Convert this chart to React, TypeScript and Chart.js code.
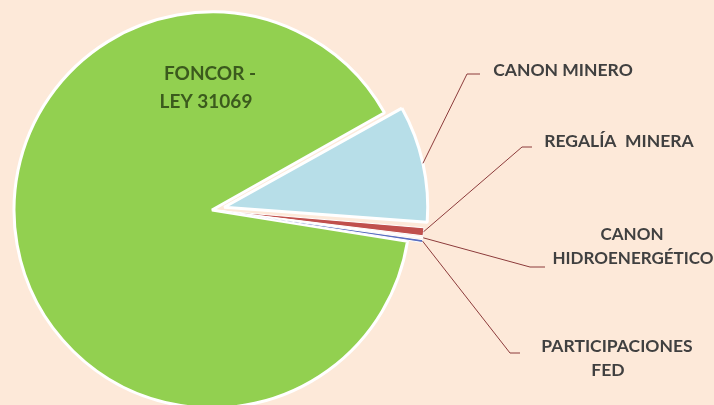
import React, { useEffect, useRef } from "react";
import { Chart, registerables } from "chart.js";

Chart.register(...registerables);

// ---- data ----
const categories = [
  "FONCOR - LEY 31069",
  "CANON MINERO",
  "REGALÍA MINERA",
  "CANON HIDROENERGÉTICO",
  "PARTICIPACIONES FED",
];
const shares = [89.3, 9.4, 0.8, 0.1, 0.4];
const labelLines = [
  ["FONCOR -", "LEY 31069"],
  ["CANON MINERO"],
  ["REGALÍA  MINERA"],
  ["CANON", "HIDROENERGÉTICO"],
  ["PARTICIPACIONES", "FED"],
];

// ---- styles / layout ----
const sliceColors = ["#92d050", "#b7dee8", "#c0504d", "#8064a2", "#5b6fc0"];
const sliceBorders = [3, 3, 1, 2, 1];
const sliceOffsets = [0, 50, 30, 30, 30];
const BG = "#fde9d9";
// text centers per line: [x, y]
const labelCenters: number[][][] = [
  [[210, 74], [206, 102]],
  [[563, 70]],
  [[619, 141]],
  [[632, 235], [633, 259]],
  [[617, 346], [608, 370]],
];
const labelFonts = [19, 17.5, 17.5, 17, 17.5];
// leader elbows: [elbowX, elbowY, endX] (null = no leader)
const leaderElbows: (number[] | null)[] = [
  null,
  [467, 74, 480],
  [522, 147, 532],
  [530, 267, 545],
  [510, 353, 520],
];

const labelPlugin = {
  id: "sliceLabels",
  afterDraw(chart: any) {
    const ctx = chart.ctx;
    const meta = chart.getDatasetMeta(0);
    ctx.save();
    meta.data.forEach((arc: any, i: number) => {
      const el = leaderElbows[i];
      if (el) {
        const p = arc.getProps(["x", "y", "startAngle", "endAngle", "outerRadius", "circumference"], true);
        const mid = (p.startAngle + p.endAngle) / 2;
        const shift = sliceOffsets[i] / 4;
        const fix = 1 - Math.sin(Math.min(Math.PI, p.circumference || 0));
        const r = p.outerRadius + shift + shift * fix;
        const ax = p.x + Math.cos(mid) * r;
        const ay = p.y + Math.sin(mid) * r;
        ctx.strokeStyle = "#8c3b3b";
        ctx.lineWidth = 1;
        ctx.beginPath();
        ctx.moveTo(ax, ay);
        ctx.lineTo(el[0], el[1]);
        ctx.lineTo(el[2], el[1]);
        ctx.stroke();
      }
      ctx.font = `bold ${labelFonts[i]}px Lato, 'Open Sans', sans-serif`;
      ctx.textAlign = "center";
      ctx.textBaseline = "middle";
      ctx.fillStyle = i === 0 ? "#3b5a1d" : "#404040";
      labelLines[i].forEach((t, j) => {
        const c = labelCenters[i][j];
        ctx.fillText(t, c[0], c[1]);
      });
    });
    ctx.restore();
  },
};

export default function App() {
  const ref = useRef<HTMLCanvasElement | null>(null);
  useEffect(() => {
    document.body.style.margin = "0";
    if (!ref.current) return;
    const chart = new Chart(ref.current, {
      type: "pie",
      data: {
        labels: categories,
        datasets: [
          {
            data: shares,
            backgroundColor: sliceColors,
            borderColor: "#ffffff",
            borderWidth: sliceBorders,
            offset: sliceOffsets,
          },
        ],
      },
      options: {
        responsive: false,
        animation: false,
        rotation: 99.12,
        radius: 198,
        layout: { padding: { left: 0, right: 290, top: 15, bottom: 0 } },
        plugins: {
          legend: { display: false },
          tooltip: { enabled: false },
        },
      },
      plugins: [labelPlugin],
    } as any);
    return () => chart.destroy();
  }, []);
  return (
    <div style={{ position: "absolute", left: 0, top: 0, width: 714, height: 405, background: BG }}>
      <canvas ref={ref} width={714} height={405} />
    </div>
  );
}
